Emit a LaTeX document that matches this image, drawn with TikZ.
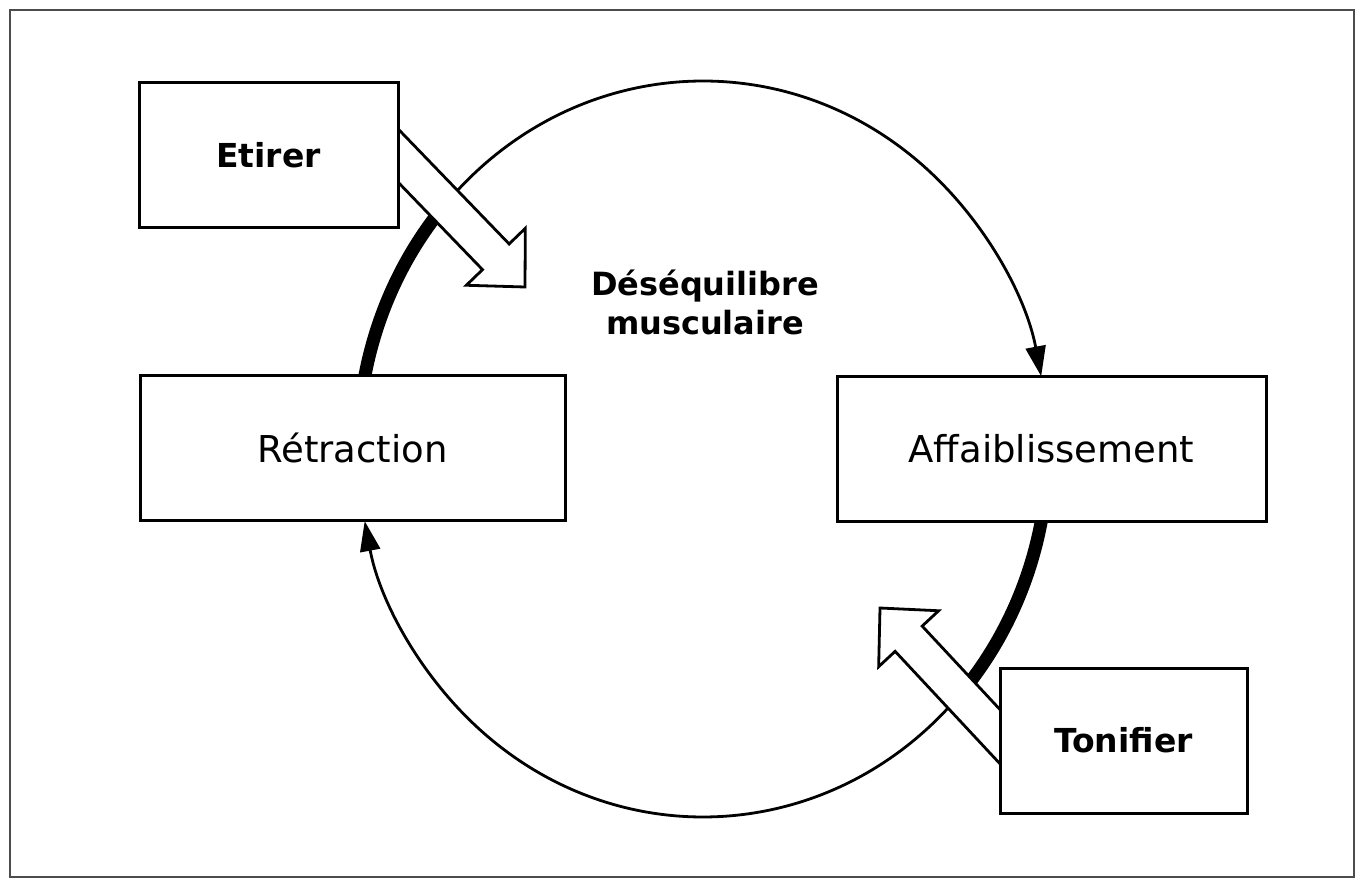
\documentclass[tikz,border=0pt]{standalone}
\usepackage{fontspec}
\setmainfont{DejaVu Sans}
\usetikzlibrary{arrows.meta}

\begin{document}
\begin{tikzpicture}[x=1pt,y=-1pt,
    box/.style={draw,line width=3pt,fill=white,minimum height=145pt,align=center,font=\fontsize{37}{42}\selectfont},
    action/.style={box,font=\fontsize{33}{40}\selectfont\bfseries},
    loopline/.style={line width=2.8pt},
    tightline/.style={line width=13pt},
    hollow/.style={draw,line width=2.8pt,fill=white,line join=miter},
    looparrow/.style={-{Triangle[length=30pt,width=20pt]}}]
  \useasboundingbox (0,0) rectangle (1362,882);
  \draw[line width=2pt,black!70] (10,10) rectangle (1354,877);
  % the loop, an ellipse round (c)
  \coordinate (c) at (703,449);
  \coordinate (upleft) at ([shift={(c)}]221.5:345 and 368);
  \coordinate (downright) at ([shift={(c)}]41.7:345 and 368);
  \coordinate (leftmid) at ([shift={(c)}]180:345 and 368);
  \coordinate (rightmid) at ([shift={(c)}]2:345 and 368);
  \draw[loopline,looparrow] (upleft) arc[start angle=221.5,end angle=348.6,x radius=345,y radius=368];
  \draw[loopline,looparrow] (downright) arc[start angle=41.7,end angle=168.7,x radius=345,y radius=368];
  \draw[tightline] (leftmid) arc[start angle=180,end angle=221.5,x radius=345,y radius=368];
  \draw[tightline] (rightmid) arc[start angle=2,end angle=41.7,x radius=345,y radius=368];
  % hollow arrows
  \begin{scope}[shift={(525,287)},rotate=-46]
    \draw[hollow] (0,0) -- (-42,41) -- (-42,18.5) -- (-220,18.5) -- (-220,-18.5) -- (-42,-18.5) -- (-42,-41) -- cycle;
  \end{scope}
  \begin{scope}[shift={(880,608)},rotate=133]
    \draw[hollow] (0,0) -- (-42,41) -- (-42,18.5) -- (-220,18.5) -- (-220,-18.5) -- (-42,-18.5) -- (-42,-41) -- cycle;
  \end{scope}
  % boxes
  \node[action,minimum width=259pt] (etirer) at (268.5,155.5) {Etirer};
  \node[box,minimum width=425pt] (retraction) at (352.5,447.5) {Rétraction};
  \node[box,minimum width=429pt] (affaib) at (1051.5,448.5) {Affaiblissement};
  \node[action,minimum width=247pt] (tonifier) at (1123.5,740.5) {Tonifier};
  \node[align=center,font=\fontsize{32}{39}\selectfont\bfseries] (deseq) at (705,302) {Déséquilibre\\musculaire};
\end{tikzpicture}
\end{document}
